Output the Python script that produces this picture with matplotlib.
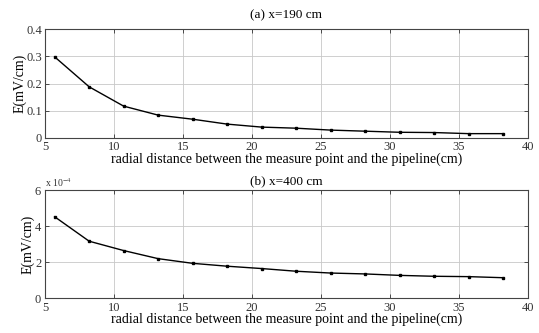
import matplotlib
matplotlib.use('Agg')
import matplotlib.pyplot as plt
from matplotlib.ticker import ScalarFormatter

plt.rcParams['font.family'] = ['Liberation Serif', 'DejaVu Serif']
plt.rcParams['mathtext.fontset'] = 'stix'

# radial distances (cm)
dist = [5.7, 8.2, 10.7, 13.2, 15.7, 18.2, 20.7, 23.2, 25.7, 28.2, 30.7, 33.2, 35.7, 38.2]
# E at x=190 cm (mV/cm)
e_190 = [0.298, 0.188, 0.117, 0.084, 0.069, 0.051, 0.040, 0.036, 0.029, 0.025, 0.021, 0.020, 0.016, 0.016]
# E at x=400 cm (mV/cm)
e_400 = [4.52e-4, 3.16e-4, 2.64e-4, 2.19e-4, 1.93e-4, 1.77e-4, 1.64e-4,
         1.49e-4, 1.39e-4, 1.34e-4, 1.26e-4, 1.21e-4, 1.19e-4, 1.13e-4]

xlabel = 'radial distance between the measure point and the pipeline(cm)'

fig = plt.figure(figsize=(5.39, 3.33), dpi=100)
ax1 = fig.add_axes([0.0835, 0.5856, 0.896, 0.327])
ax2 = fig.add_axes([0.0835, 0.105, 0.896, 0.324])

for ax, y in [(ax1, e_190), (ax2, e_400)]:
    ax.plot(dist, y, color='black', lw=1.0, marker='s', ms=2.0)
    ax.set_xlim(5, 40)
    ax.set_xticks([5, 10, 15, 20, 25, 30, 35, 40])
    ax.grid(True, color='#c8c8c8', lw=0.6)
    ax.tick_params(direction='in', length=3, width=0.6, labelsize=9, pad=1,
                   top=True, right=True, colors='#333333')
    ax.tick_params(axis='x', pad=2.5)
    ax.tick_params(axis='y', pad=2)
    for s in ax.spines.values():
        s.set_linewidth(0.8)
        s.set_color('#444444')
    ax.set_xlabel(xlabel, fontsize=10, labelpad=-1)
    ax.set_ylabel('E(mV/cm)', fontsize=10, labelpad=0)

ax1.set_title('(a) x=190 cm', fontsize=9.5, pad=8)
ax2.set_title('(b) x=400 cm', fontsize=9.5, pad=4)

ax1.set_ylim(0, 0.4)
ax1.set_yticks([0, 0.1, 0.2, 0.3, 0.4])
ax1.set_yticklabels(['0', '0.1', '0.2', '0.3', '0.4'])

ax2.set_ylim(0, 6e-4)
ax2.set_yticks([0, 2e-4, 4e-4, 6e-4])
fmt = ScalarFormatter(useMathText=True)
fmt.set_powerlimits((-3, 3))
ax2.yaxis.set_major_formatter(fmt)
ax2.yaxis.get_offset_text().set_visible(False)
ax2.text(0.0, 1.01, r'x 10$^{-4}$', transform=ax2.transAxes, fontsize=7,
         color='#333333', va='bottom')

fig.savefig('out.png', dpi=100)
